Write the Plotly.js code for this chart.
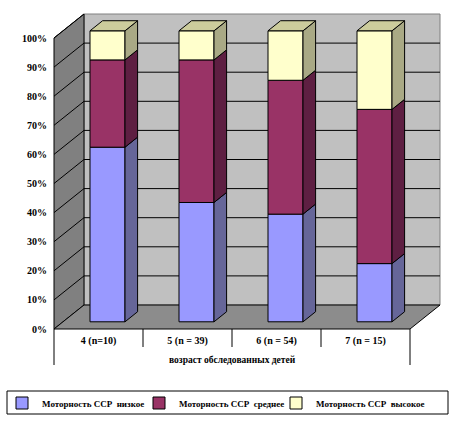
<!DOCTYPE html>
<html><head><meta charset="utf-8">
<script src="https://cdn.plot.ly/plotly-3.0.1.min.js"></script>
<style>html,body{margin:0;padding:0;background:#fff}</style>
</head><body><div id="chart" style="width:456px;height:421px"></div>
<script>
// ---- data ----
const categories = ['4 (n=10)', '5 (n = 39)', '6 (n = 54)', '7 (n = 15)'];
const seriesNames = ['Моторность ССР  низкое', 'Моторность ССР  среднее', 'Моторность ССР  высокое'];
const lowValues = [60, 41, 37, 20];
const midValues = [30, 49, 46, 53];
const highValues = [10, 10, 17, 27];
const yTickVals = [0, 10, 20, 30, 40, 50, 60, 70, 80, 90, 100];
const yTickText = ['0%', '10%', '20%', '30%', '40%', '50%', '60%', '70%', '80%', '90%', '100%'];
const xAxisTitle = 'возраст обследованных детей';

// ---- styling / geometry ----
const FONT = '"Liberation Serif", "Times New Roman", serif';
const frontColors = ['#9999ff', '#993366', '#ffffcc'];
const sideColors = ['#666699', '#5e1f42', '#a9a985'];
const topColor = '#cccc9c';
const legendWidths = [92, 92, 112];
const W = 456, H = 421;
const PL = 0, PR = 456, PT = 10, PB = 368;       // plot area in px
const X0 = 54, XS = 89;                           // px of category -0.5, px per category
const Y0 = 329, YS = 2.91;                        // px of 0 %, px per percent
const DX = 30 / XS, DY = 24 / YS;                 // full depth offset in data units
const DF = 0.3, DB = 0.72;                        // bar front / back depth
const BW = 35 / XS;                               // bar width
const xr = [-0.5 - (X0 - PL) / XS, -0.5 + (PR - X0) / XS];
const yr = [(Y0 - PB) / YS, (Y0 - PT) / YS];
const P = (x, v, d) => [x + d * DX, v + d * DY];
const path = pts => 'M' + pts.map(p => p[0] + ',' + p[1]).join('L') + 'Z';
const line = (a, b) => 'M' + a[0] + ',' + a[1] + 'L' + b[0] + ',' + b[1];
const pxToPaperX = px => (px - PL) / (PR - PL);
const pxToPaperY = py => (PB - py) / (PB - PT);
const pxToV = py => (Y0 - py) / YS;

const xMin = -0.5, xMax = categories.length - 0.5;
const shapes = [];
// back wall
shapes.push({type: 'path', layer: 'below', path: path([P(xMin, 0, 1), P(xMax, 0, 1), P(xMax, 100, 1), P(xMin, 100, 1)]),
  fillcolor: '#c0c0c0', line: {color: '#808080', width: 1}});
// side wall
shapes.push({type: 'path', layer: 'below', path: path([P(xMin, 0, 0), P(xMin, 0, 1), P(xMin, 100, 1), P(xMin, 100, 0)]),
  fillcolor: '#808080', line: {color: '#000', width: 1}});
// floor
shapes.push({type: 'path', layer: 'below', path: path([P(xMin, 0, 0), P(xMax, 0, 0), P(xMax, 0, 1), P(xMin, 0, 1)]),
  fillcolor: '#8c8c8c', line: {color: '#000', width: 1}});
// gridlines
yTickVals.forEach(v => {
  if (v === 0) return;
  if (v < 100) shapes.push({type: 'path', layer: 'below', path: line(P(xMin, v, 1), P(xMax, v, 1)), line: {color: '#000', width: 1}});
  shapes.push({type: 'path', layer: 'below', path: line(P(xMin, v, 0), P(xMin, v, 1)), line: {color: '#000', width: 1}});
});
// category table lines
for (let k = 0; k <= categories.length; k++) {
  const x = xMin + k;
  const end = (k === 0 || k === categories.length) ? pxToV(365) : pxToV(347);
  shapes.push({type: 'path', layer: 'below', path: line([x, 0], [x, end]), line: {color: '#000', width: 1}});
}
// legend frame
shapes.push({type: 'rect', xref: 'paper', yref: 'paper', x0: pxToPaperX(7), x1: pxToPaperX(448),
  y0: pxToPaperY(414), y1: pxToPaperY(391), line: {color: '#000', width: 1}, fillcolor: 'rgba(0,0,0,0)'});

// ---- traces ----
const series = [lowValues, midValues, highValues];
const traces = [];
const cum = categories.map(() => 0);
const segs = [];
series.forEach((vals, s) => {
  const base = vals.map((v, i) => cum[i] + DF * DY);
  traces.push({type: 'bar', name: seriesNames[s], x: categories.map((c, i) => i + DF * DX), y: vals, base: base,
    width: BW, legendwidth: legendWidths[s],
    marker: {color: frontColors[s], line: {color: '#000', width: 1}}, hoverinfo: 'skip'});
  vals.forEach((v, i) => { segs.push({s, i, b: cum[i] + DF * DY, t: cum[i] + v + DF * DY}); cum[i] += v; });
});
const dd = DB - DF;
segs.forEach(g => {
  const xR = g.i + DF * DX + BW / 2;
  const pts = [[xR, g.b], [xR + dd * DX, g.b + dd * DY], [xR + dd * DX, g.t + dd * DY], [xR, g.t], [xR, g.b]];
  traces.push({type: 'scatter', mode: 'lines', x: pts.map(p => p[0]), y: pts.map(p => p[1]), fill: 'toself',
    fillcolor: sideColors[g.s], line: {color: '#000', width: 1}, showlegend: false, hoverinfo: 'skip'});
  if (g.s === series.length - 1) {
    const xL = xR - BW;
    const tp = [[xL, g.t], [xR, g.t], [xR + dd * DX, g.t + dd * DY], [xL + dd * DX, g.t + dd * DY], [xL, g.t]];
    traces.push({type: 'scatter', mode: 'lines', x: tp.map(p => p[0]), y: tp.map(p => p[1]), fill: 'toself',
      fillcolor: topColor, line: {color: '#000', width: 1}, showlegend: false, hoverinfo: 'skip'});
  }
});

const layout = {
  width: W, height: H,
  margin: {l: PL, r: W - PR, t: PT, b: H - PB, pad: 0, autoexpand: false},
  paper_bgcolor: '#fff', plot_bgcolor: 'rgba(0,0,0,0)',
  barmode: 'overlay', hovermode: false,
  font: {family: FONT, size: 10, color: '#000', weight: 700},
  xaxis: {range: xr, anchor: 'free', position: (PB - Y0) / (PB - PT), showgrid: false, zeroline: false, showline: false,
    ticks: '', tickmode: 'array', tickvals: categories.map((c, i) => i), ticktext: categories, automargin: false,
    tickfont: {family: FONT, size: 10, color: '#000', weight: 700}, ticklabelstandoff: 4},
  yaxis: {range: yr, anchor: 'free', position: pxToPaperX(50), showgrid: false, zeroline: false, showline: false,
    ticks: '', tickmode: 'array', automargin: false,
    tickvals: yTickVals, ticktext: yTickText, tickfont: {family: FONT, size: 10, color: '#000', weight: 700}, ticklabelstandoff: 3},
  shapes: shapes,
  annotations: [{text: xAxisTitle, x: (categories.length - 1) / 2, y: pxToV(360), xref: 'x', yref: 'y', showarrow: false,
    font: {family: FONT, size: 9.5, color: '#000', weight: 700}, xanchor: 'center', yanchor: 'middle'}],
  showlegend: true,
  legend: {orientation: 'h', x: pxToPaperX(2), xanchor: 'left', y: pxToPaperY(403), yanchor: 'middle',
    bgcolor: 'rgba(0,0,0,0)', borderwidth: 0, entrywidthmode: 'pixels',
    font: {family: FONT, size: 9, color: '#000', weight: 700}, traceorder: 'normal'}
};
Plotly.newPlot('chart', traces, layout, {staticPlot: true, displayModeBar: false});
</script></body></html>
